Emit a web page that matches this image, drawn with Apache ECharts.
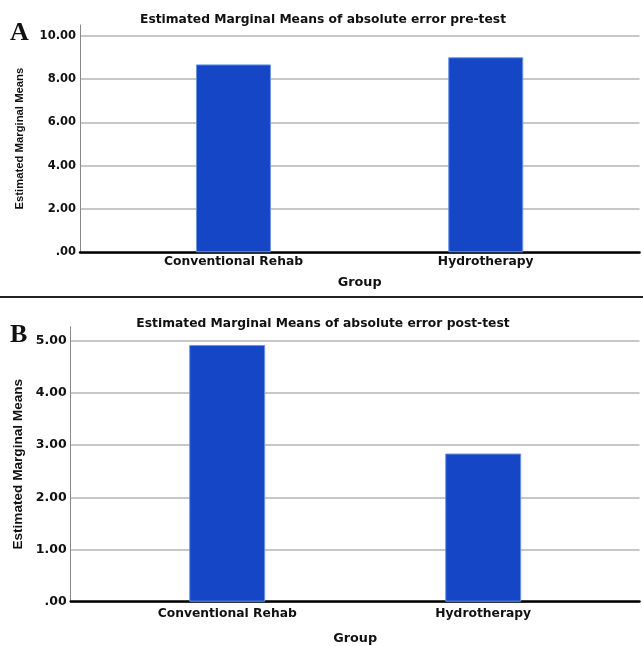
<!DOCTYPE html>
<html>
<head>
<meta charset="utf-8">
<script src="https://cdn.jsdelivr.net/npm/echarts@6/dist/echarts.min.js"></script>
<style>
html,body{margin:0;padding:0;background:#fff;}
#chart{width:643px;height:646px;}
</style>
</head>
<body>
<div id="chart"></div>
<script>
var categories = ['Conventional Rehab', 'Hydrotherapy'];
var preTestValues = [8.68, 9.01];
var postTestValues = [4.92, 2.84];
var preTickValues = [0, 2, 4, 6, 8, 10];
var preTickLabels = ['.00', '2.00', '4.00', '6.00', '8.00', '10.00'];
var postTickValues = [0, 1, 2, 3, 4, 5];
var postTickLabels = ['.00', '1.00', '2.00', '3.00', '4.00', '5.00'];
var titleA = 'Estimated Marginal Means of absolute error pre-test';
var titleB = 'Estimated Marginal Means of absolute error post-test';
var yName = 'Estimated Marginal Means';
var xName = 'Group';

function fmt(values, labels) {
  return function (v) {
    for (var i = 0; i < values.length; i++) {
      if (Math.abs(values[i] - v) < 1e-9) return labels[i];
    }
    return '';
  };
}

var HFONT = '"DejaVu Sans", sans-serif';
var VFONT = '"Liberation Sans", Arial, sans-serif';
var barColor = '#1446C6';

var chart = echarts.init(document.getElementById('chart'), null, {renderer: 'canvas'});

function wideY(idx, max, interval, vals, labs, fs, nameFs, nameGap) {
  return {
    type: 'value', gridIndex: idx, min: 0, max: max, interval: interval,
    name: yName, nameLocation: 'middle', nameRotate: 90, nameGap: nameGap,
    nameTextStyle: {fontFamily: VFONT, fontWeight: 'bold', fontSize: nameFs, color: '#111'},
    axisLine: {show: true, lineStyle: {color: '#888', width: 1}},
    axisTick: {show: false},
    axisLabel: {formatter: fmt(vals, labs), fontFamily: HFONT, fontWeight: 'bold', fontSize: fs, color: '#111', margin: 4, showMaxLabel: false},
    splitLine: {show: true, showMaxLine: false, lineStyle: {color: '#b4b4b4', width: 1.5}}
  };
}
function hiddenY(idx, max, interval) {
  return {type: 'value', gridIndex: idx, min: 0, max: max, interval: interval, show: false, splitLine: {show: false}};
}
function wideX(idx) {
  return {
    type: 'category', gridIndex: idx, data: categories,
    axisLine: {show: true, lineStyle: {color: '#000', width: 2.5}},
    axisTick: {show: false}, axisLabel: {show: false}, splitLine: {show: false}
  };
}
function narrowX(idx, margin, nameGap, nameFs) {
  return {
    type: 'category', gridIndex: idx, data: categories,
    name: xName, nameLocation: 'middle', nameGap: nameGap,
    nameTextStyle: {fontFamily: HFONT, fontWeight: 'bold', fontSize: nameFs, color: '#111'},
    axisLine: {show: false}, axisTick: {show: false},
    axisLabel: {fontFamily: HFONT, fontWeight: 'bold', fontSize: 12.3, color: '#111', margin: margin, interval: 0},
    splitLine: {show: false}
  };
}

var option = {
  backgroundColor: '#fff',
  animation: false,
  title: [
    {text: titleA, left: 318, top: 8.5, textAlign: 'center', textStyle: {fontFamily: HFONT, fontWeight: 'bold', fontSize: 12.3, color: '#111'}},
    {text: titleB, left: 318, top: 313, textAlign: 'center', textStyle: {fontFamily: HFONT, fontWeight: 'bold', fontSize: 12.3, color: '#111'}}
  ],
  grid: [
    {left: 80, right: 3.5, top: 25, bottom: 393.7, containLabel: false, outerBoundsMode: 'none'},
    {left: 107.3, right: 31.1, top: 25, bottom: 393.7, containLabel: false, outerBoundsMode: 'none'},
    {left: 70.7, right: 3.5, top: 326.7, bottom: 44.3, containLabel: false, outerBoundsMode: 'none'},
    {left: 99.2, right: 31.8, top: 326.7, bottom: 44.3, containLabel: false, outerBoundsMode: 'none'}
  ],
  xAxis: [
    wideX(0),
    narrowX(1, 4, 24, 12.8),
    wideX(2),
    narrowX(3, 6, 30, 12.8)
  ],
  yAxis: [
    wideY(0, 10.5, 2, preTickValues, preTickLabels, 11.5, 11.3, 55),
    hiddenY(1, 10.5, 2),
    wideY(2, 5.27, 1, postTickValues, postTickLabels, 12.5, 13.6, 45),
    hiddenY(3, 5.27, 1)
  ],
  series: [
    {type: 'bar', xAxisIndex: 1, yAxisIndex: 1, data: preTestValues, barWidth: 75,
     itemStyle: {color: barColor, borderColor: '#6f95e0', borderWidth: 1}},
    {type: 'bar', xAxisIndex: 3, yAxisIndex: 3, data: postTestValues, barWidth: 76,
     itemStyle: {color: barColor, borderColor: '#6f95e0', borderWidth: 1}}
  ],
  graphic: [
    {type: 'text', style: {text: 'A', x: 10, y: 33, font: 'bold 26px "Liberation Serif", "Times New Roman", serif', fill: '#111', align: 'left', verticalAlign: 'middle'}},
    {type: 'text', style: {text: 'B', x: 10, y: 335, font: 'bold 26px "Liberation Serif", "Times New Roman", serif', fill: '#111', align: 'left', verticalAlign: 'middle'}},
    {type: 'line', shape: {x1: 0, y1: 297, x2: 643, y2: 297}, style: {stroke: '#222', lineWidth: 2}}
  ]
};
chart.setOption(option);
</script>
</body>
</html>
